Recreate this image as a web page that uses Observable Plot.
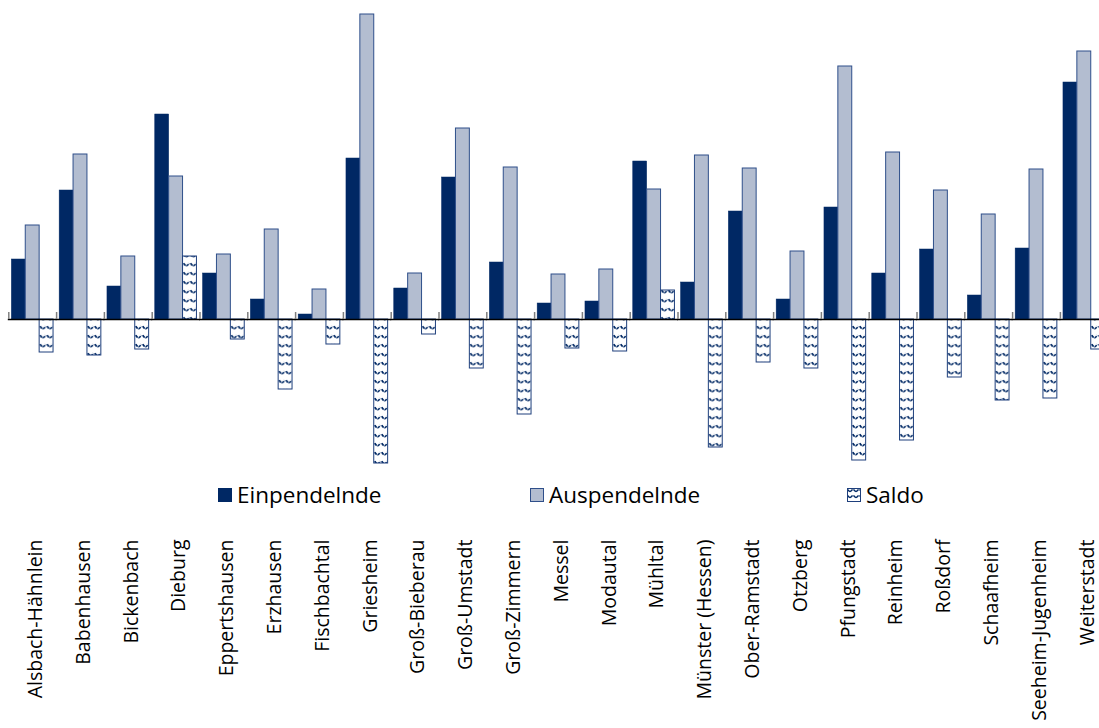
<!DOCTYPE html>
<html>
<head>
<meta charset="utf-8">
<script src="https://cdn.jsdelivr.net/npm/d3@7"></script>
<script src="https://cdn.jsdelivr.net/npm/@observablehq/plot@0.6"></script>
<style>
  html, body { margin: 0; padding: 0; background: #fff; }
  #wrap { position: relative; width: 1099px; height: 728px; overflow: hidden; font-family: "Open Sans", sans-serif; }
  #legend { position: absolute; top: 479px; left: 0; width: 1099px; height: 32px; font-size: 22.5px; color: #000; }
  .item { position: absolute; display: flex; align-items: center; gap: 5px; white-space: nowrap; }
  .sw { width: 14px; height: 14px; box-sizing: border-box; }
</style>
</head>
<body>
<div id="wrap">
  <div id="chart"></div>
  <div id="legend"></div>
</div>
<script>
// Municipalities (Landkreis Darmstadt-Dieburg)
const names = ["Alsbach-Hähnlein","Babenhausen","Bickenbach","Dieburg","Eppertshausen","Erzhausen","Fischbachtal","Griesheim","Groß-Bieberau","Groß-Umstadt","Groß-Zimmern","Messel","Modautal","Mühltal","Münster (Hessen)","Ober-Ramstadt","Otzberg","Pfungstadt","Reinheim","Roßdorf","Schaafheim","Seeheim-Jugenheim","Weiterstadt"];
const series = ["Einpendelnde", "Auspendelnde", "Saldo"];
const einpendelnde = [1800, 3870, 990, 6150, 1380, 600, 150, 4830, 930, 4260, 1710, 480, 540, 4740, 1110, 3240, 600, 3360, 1380, 2100, 720, 2130, 7110];
const auspendelnde = [2820, 4950, 1890, 4290, 1950, 2700, 900, 9150, 1380, 5730, 4560, 1350, 1500, 3900, 4920, 4530, 2040, 7590, 5010, 3870, 3150, 4500, 8040];
const saldo = [-990, -1080, -900, 1890, -600, -2100, -750, -4320, -450, -1470, -2850, -870, -960, 870, -3840, -1290, -1470, -4230, -3630, -1740, -2430, -2370, -900];

const colEin = "#002864";
const colAus = "#b3bdd0";
const strokeAus = "#2f4f8a";
const strokeSaldo = "#1e3f7c";

const rows = [];
names.forEach((n, i) => {
  rows.push({name: n, series: "Einpendelnde", value: einpendelnde[i]});
  rows.push({name: n, series: "Auspendelnde", value: auspendelnde[i]});
  rows.push({name: n, series: "Saldo", value: saldo[i]});
});

const fxRange = [8.3, 1107.7];
const pIn = 0.128, pOut = 0.064;
const step = (fxRange[1] - fxRange[0]) / names.length;
const gap = step * pOut;
const xBand = step * (1 - pIn) / 3;

const chart = Plot.plot({
  width: 1099,
  height: 728,
  marginTop: 0,
  marginLeft: 0,
  marginRight: 0,
  marginBottom: 190,
  style: {fontFamily: "Open Sans, sans-serif", fontSize: "19.5px", color: "#000", background: "#fff"},
  fx: {domain: names, range: fxRange, round: false, paddingInner: pIn, paddingOuter: pOut, axis: null},
  x: {domain: series, padding: 0, round: false, axis: null},
  y: {domain: [-4500, 9150], range: [469, 14], axis: null},
  marks: [
    Plot.barY(rows.filter(d => d.series === "Einpendelnde"), {fx: "name", x: "series", y: "value", fill: colEin, stroke: colEin, strokeWidth: 0.5}),
    Plot.barY(rows.filter(d => d.series === "Auspendelnde"), {fx: "name", x: "series", y: "value", fill: colAus, stroke: strokeAus, strokeWidth: 1}),
    Plot.barY(rows.filter(d => d.series === "Saldo"), {fx: "name", x: "series", y: "value", fill: "url(#saldoPattern)", stroke: strokeSaldo, strokeWidth: 1}),
    Plot.ruleY([0], {stroke: "#000", strokeWidth: 1.6, insetLeft: -gap - 0.5, insetRight: -gap - 0.5}),
    Plot.ruleX(names, {fx: d => d, x: () => "Einpendelnde", y1: 0, y2: 0, insetBottom: 7, dx: -(xBand / 2 + gap), stroke: "#7f7f7f", strokeWidth: 1.5}),
    Plot.axisFx({anchor: "bottom", label: null, tickRotate: -90, tickSize: 0, tickPadding: 1, dx: 3, fontSize: 19.5})
  ]
});

// hatch pattern for Saldo bars
const svg = d3.select(chart.tagName.toLowerCase() === "svg" ? chart : chart.querySelector("svg"));
const pat = svg.insert("defs", ":first-child").append("pattern")
  .attr("id", "saldoPattern").attr("patternUnits", "userSpaceOnUse")
  .attr("width", 7).attr("height", 9);
pat.append("rect").attr("width", 7).attr("height", 9).attr("fill", "#fff");
pat.append("path").attr("d", "M0.8,2.2 Q3.5,7.4 6.2,2.2").attr("fill", "none")
  .attr("stroke", "#002864").attr("stroke-width", 1.8).attr("stroke-dasharray", "3,0.8");

document.getElementById("chart").appendChild(chart);

// legend
const legendItems = [
  {label: "Einpendelnde", left: 218, style: `background:${colEin};`},
  {label: "Auspendelnde", left: 530, style: `background:${colAus};border:1px solid ${strokeAus};`},
  {label: "Saldo", left: 847, pattern: true}
];
const legend = document.getElementById("legend");
legendItems.forEach(it => {
  const div = document.createElement("div");
  div.className = "item";
  div.style.left = it.left + "px";
  let sw;
  if (it.pattern) {
    sw = `<svg width="14" height="14" style="display:block"><defs><pattern id="lp" patternUnits="userSpaceOnUse" width="6" height="6"><rect width="6" height="6" fill="#fff"/><path d="M0.5,1.5 Q3,5.5 5.5,1.5" fill="none" stroke="#002864" stroke-width="1.5"/></pattern></defs><rect x="0.5" y="0.5" width="13" height="13" fill="url(#lp)" stroke="${strokeSaldo}"/></svg>`;
  } else {
    sw = `<div class="sw" style="${it.style}"></div>`;
  }
  div.innerHTML = sw + `<span>${it.label}</span>`;
  legend.appendChild(div);
});
</script>
</body>
</html>
